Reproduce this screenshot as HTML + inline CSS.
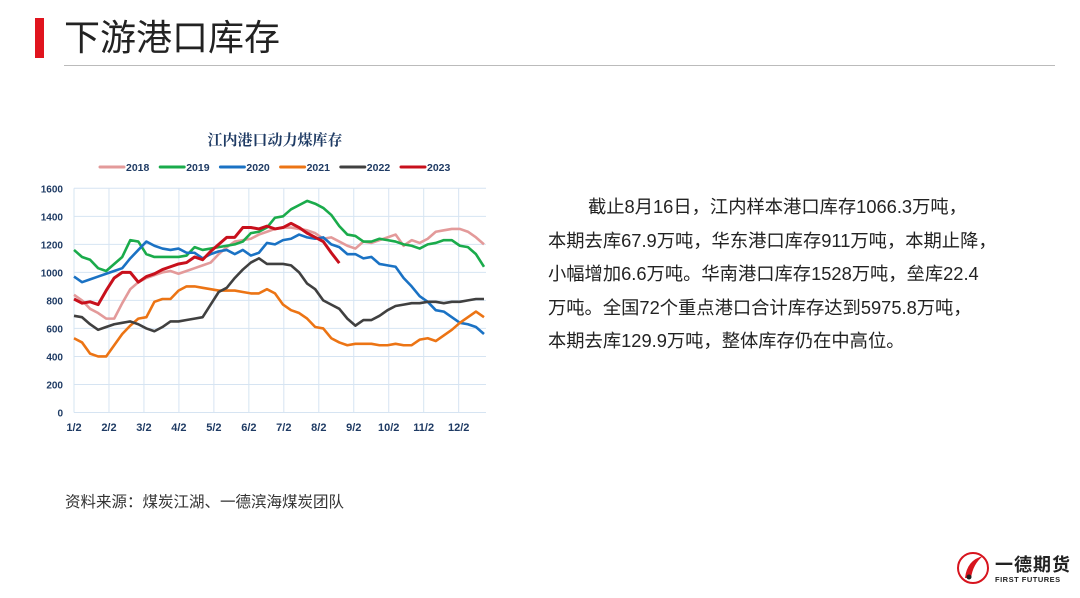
<!DOCTYPE html>
<html><head><meta charset="utf-8">
<style>
body{margin:0;width:1080px;height:598px;background:#fff;position:relative;overflow:hidden;font-family:"Liberation Sans","Noto Sans CJK SC",sans-serif;}
.abs{position:absolute;}
</style></head><body>
<div class="abs" style="left:35px;top:18px;width:9px;height:40px;background:#e0141e"></div>
<div class="abs" style="left:64px;top:16px;font-size:36px;color:#222;line-height:44px">下游港口库存</div>
<div class="abs" style="left:64px;top:65px;width:991px;height:1px;background:#bbb"></div>

<svg class="abs" style="left:0;top:0" width="1080" height="598">
<text x="275" y="145" text-anchor="middle" font-family="'Liberation Serif','Noto Serif CJK SC',serif" font-weight="bold" font-size="15" fill="#1f3b64">江内港口动力煤库存</text>
<g id="legend"></g>
<g id="grid"></g>
<g id="series"></g>
</svg>

<div class="abs" style="left:548px;top:190px;width:480px;font-size:18.3px;line-height:33.5px;color:#222;white-space:nowrap">
<div style="text-indent:40px">截止8月16日，江内样本港口库存1066.3万吨，</div>
<div>本期去库67.9万吨，华东港口库存911万吨，本期止降，</div>
<div>小幅增加6.6万吨。华南港口库存1528万吨，垒库22.4</div>
<div>万吨。全国72个重点港口合计库存达到5975.8万吨，</div>
<div>本期去库129.9万吨，整体库存仍在中高位。</div>
</div>
<div class="abs" style="left:65px;top:490px;font-size:15.5px;color:#333">资料来源：煤炭江湖、一德滨海煤炭团队</div>

<div class="abs" style="left:955px;top:548px;width:125px;height:40px;white-space:nowrap">
<svg width="36" height="36" style="position:absolute;left:0;top:2px"><circle cx="18" cy="18" r="15" fill="none" stroke="#d7141e" stroke-width="2"/><path d="M10 28 Q12 10 28 6 Q18 14 16 28Z" fill="#d7141e"/><circle cx="14" cy="27" r="2.5" fill="#222"/></svg>
<div style="position:absolute;left:40px;top:3px;font-size:18px;font-weight:bold;color:#222;letter-spacing:1px;white-space:nowrap">一德期货</div>
<div style="position:absolute;left:40px;top:27px;font-size:7.5px;font-weight:bold;color:#222;letter-spacing:0.5px;white-space:nowrap">FIRST FUTURES</div>
</div>

<script>
const years=['2018','2019','2020','2021','2022','2023'];
const colors=['#e39a9a','#1aab4b','#1a72c4','#ec7414','#404040','#c8101c'];
const months=['1/2','2/2','3/2','4/2','5/2','6/2','7/2','8/2','9/2','10/2','11/2','12/2'];
const yTicks=[0,200,400,600,800,1000,1200,1400,1600];
const s2018=[840,800,740,710,670,670,780,880,930,960,980,1000,1010,990,1010,1030,1050,1070,1130,1180,1220,1230,1240,1270,1290,1310,1320,1320,1310,1300,1280,1240,1250,1220,1190,1170,1220,1210,1230,1250,1270,1190,1230,1210,1240,1290,1300,1310,1310,1290,1250,1200];
const s2019=[1160,1110,1090,1030,1010,1060,1110,1230,1220,1130,1110,1110,1110,1110,1120,1180,1160,1170,1180,1190,1200,1220,1280,1290,1320,1390,1400,1450,1480,1510,1490,1460,1410,1330,1270,1260,1220,1220,1240,1230,1220,1200,1190,1170,1200,1210,1230,1230,1190,1180,1130,1040];
const s2020=[970,930,950,970,990,1010,1030,1100,1160,1220,1190,1170,1160,1170,1140,1140,1100,1130,1150,1160,1130,1160,1120,1140,1210,1200,1230,1240,1270,1250,1240,1250,1200,1180,1130,1130,1100,1110,1060,1050,1040,960,900,830,790,730,720,680,640,630,610,560];
const s2021=[530,500,420,400,400,480,560,620,670,680,790,810,810,870,900,900,890,880,870,870,870,860,850,850,880,850,770,730,710,670,610,600,530,500,480,490,490,490,480,480,490,480,480,520,530,510,550,590,640,680,720,680];
const s2022=[690,680,630,590,610,630,640,650,630,600,580,610,650,650,660,670,680,770,860,890,960,1020,1070,1100,1060,1060,1060,1050,1000,920,880,800,770,740,670,620,660,660,690,730,760,770,780,780,790,790,780,790,790,800,810,810];
const s2023=[810,780,790,770,870,960,1000,1000,930,970,990,1020,1040,1060,1070,1110,1090,1150,1200,1250,1250,1320,1320,1310,1330,1310,1320,1350,1320,1280,1250,1220,1140,1066];
const series=[s2018,s2019,s2020,s2021,s2022,s2023];
const NS='http://www.w3.org/2000/svg';
const X0=74,X1=484,Y0=412.5,Y1=188.3;
const xw=w=>X0+(X1-X0)*w/51;
const xm=i=>X0+(X1-X0)*(i*4.35)/51;
const y=v=>Y0-(Y0-Y1)*v/1600;
function mk(t,a){const e=document.createElementNS(NS,t);for(const k in a)e.setAttribute(k,a[k]);return e;}
const grid=document.getElementById('grid');
yTicks.forEach(v=>{
 const l=mk('line',{x1:X0,x2:X1+2,y1:y(v),y2:y(v),stroke:'#d6e4f2','stroke-width':1});
 
 
 grid.appendChild(l);
 const t=mk('text',{x:63,y:y(v)+4,'text-anchor':'end','font-size':10,'font-weight':'bold',fill:'#1f3b64'});
 t.textContent=v;
 
 
 grid.appendChild(t);
});
months.forEach((m,i)=>{
 const x=xm(i);
 const l=mk('line',{x1:x,x2:x,y1:Y1,y2:Y0,stroke:'#d6e4f2','stroke-width':1});
 
 
 grid.appendChild(l);
 const t=mk('text',{x:x,y:431,'text-anchor':'middle','font-size':11,'font-weight':'bold',fill:'#1f3b64'});
 t.textContent=m;
 
 
 grid.appendChild(t);
});
const sg=document.getElementById('series');
series.forEach((s,k)=>{
 const p=mk('polyline',{points:s.map((v,i)=>xw(i)+','+y(v)).join(' '),fill:'none',stroke:colors[k],'stroke-width':k==5?3:2.6,'stroke-linejoin':'round'});
 
 
 sg.appendChild(p);
});
const lg=document.getElementById('legend');
years.forEach((yr,k)=>{
 const x=100+k*60.2;
 const l=mk('line',{x1:x,x2:x+24,y1:167,y2:167,stroke:colors[k],'stroke-width':3,'stroke-linecap':'round'});
 
 
 lg.appendChild(l);
 const t=mk('text',{x:x+26,y:171,'font-size':10.5,'font-weight':'bold',fill:'#1f3b64'});
 t.textContent=yr;
 
 
 lg.appendChild(t);
});
</script>
</body></html>
